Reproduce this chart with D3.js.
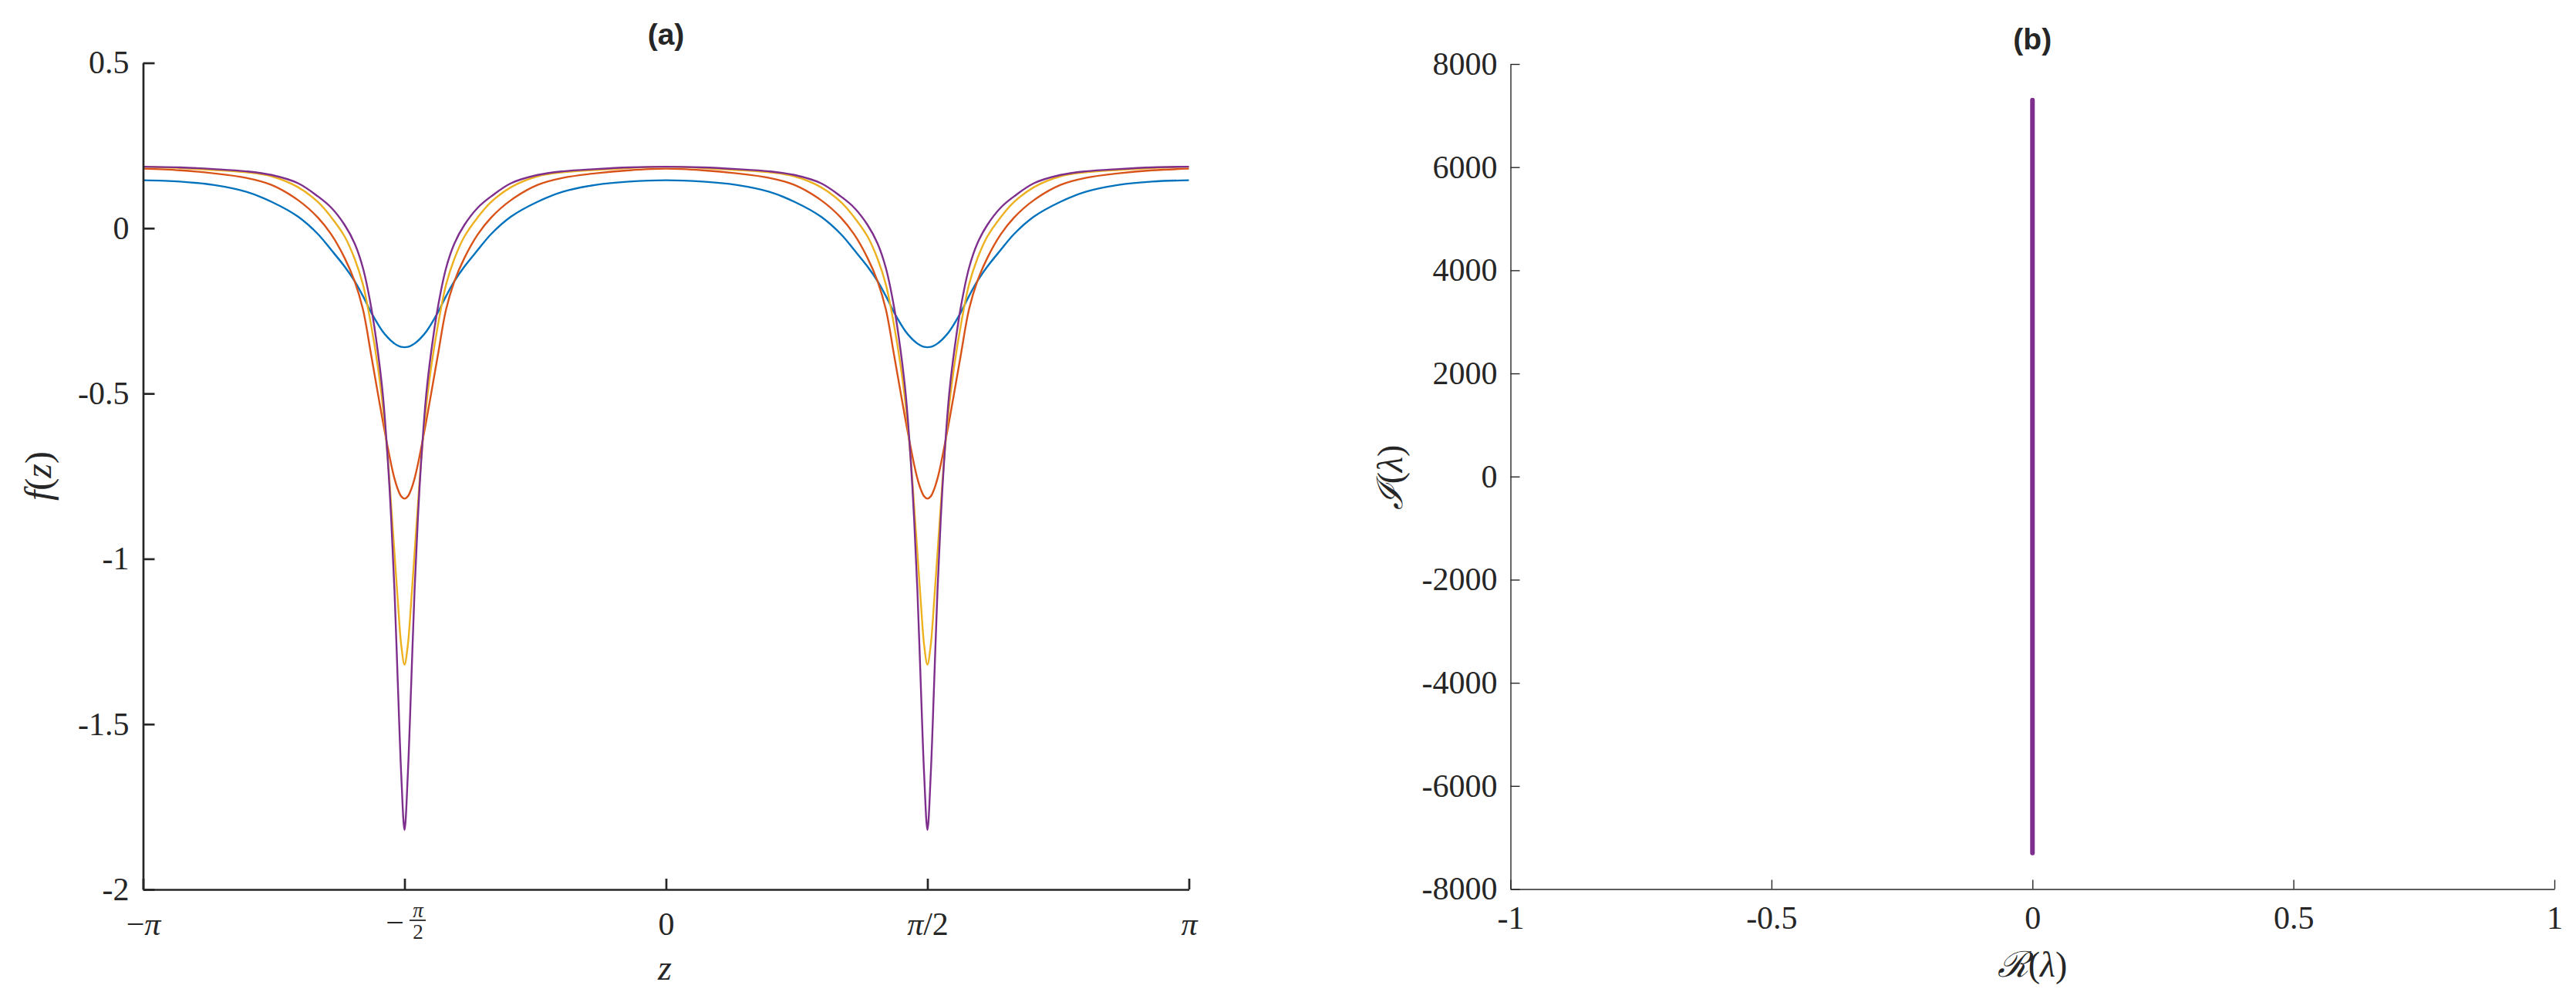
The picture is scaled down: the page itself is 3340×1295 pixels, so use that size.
<!DOCTYPE html>
<html>
<head>
<meta charset="utf-8">
<script src="https://cdn.jsdelivr.net/npm/d3@7"></script>
<style>
  html, body { margin: 0; padding: 0; background: #fff; }
  svg text { fill: #262626; }
</style>
</head>
<body>
<div id="root"></div>
<script>
// ---- data ----
// panel (a): z grid (denser near the two dips)
const zGrid = [
  -3.1416, -2.9208, -2.7208, -2.5208, -2.3708, -2.2108, -2.0908, -2.0108, -1.9308, -1.8708,
  -1.8208, -1.7708, -1.7308, -1.7008, -1.6708, -1.6508, -1.6308, -1.6108, -1.5908, -1.5708,
  -1.5508, -1.5308, -1.5108, -1.4908, -1.4708, -1.4408, -1.4108, -1.3708, -1.3208, -1.2708,
  -1.2108, -1.1308, -1.0508, -0.9308, -0.7708, -0.6208, -0.4208, -0.2208, 0,
  0.2208, 0.4208, 0.6208, 0.7708, 0.9308, 1.0508, 1.1308, 1.2108, 1.2708, 1.3208,
  1.3708, 1.4108, 1.4408, 1.4708, 1.4908, 1.5108, 1.5308, 1.5508, 1.5708,
  1.5908, 1.6108, 1.6308, 1.6508, 1.6708, 1.7008, 1.7308, 1.7708, 1.8208, 1.8708,
  1.9308, 2.0108, 2.0908, 2.2108, 2.3708, 2.5208, 2.7208, 2.9208, 3.1416
];

const fBlue = [
  0.145, 0.141, 0.131, 0.110, 0.080, 0.035, -0.018, -0.066, -0.116, -0.160,
  -0.205, -0.255, -0.290, -0.313, -0.331, -0.341, -0.349, -0.355, -0.359, -0.360,
  -0.359, -0.355, -0.349, -0.341, -0.331, -0.313, -0.290, -0.255, -0.205, -0.160,
  -0.116, -0.066, -0.018, 0.035, 0.080, 0.110, 0.131, 0.141, 0.145,
  0.141, 0.131, 0.110, 0.080, 0.035, -0.018, -0.066, -0.116, -0.160, -0.205,
  -0.255, -0.290, -0.313, -0.331, -0.341, -0.349, -0.355, -0.359, -0.360,
  -0.359, -0.355, -0.349, -0.341, -0.331, -0.313, -0.290, -0.255, -0.205, -0.160,
  -0.116, -0.066, -0.018, 0.035, 0.080, 0.110, 0.131, 0.141, 0.145
];

const fOrange = [
  0.180, 0.175, 0.166, 0.152, 0.131, 0.085, 0.032, -0.019, -0.090, -0.160,
  -0.245, -0.385, -0.500, -0.585, -0.665, -0.715, -0.758, -0.790, -0.811, -0.818,
  -0.811, -0.790, -0.758, -0.715, -0.665, -0.585, -0.500, -0.385, -0.245, -0.160,
  -0.090, -0.019, 0.032, 0.085, 0.131, 0.152, 0.166, 0.175, 0.180,
  0.175, 0.166, 0.152, 0.131, 0.085, 0.032, -0.019, -0.090, -0.160, -0.245,
  -0.385, -0.500, -0.585, -0.665, -0.715, -0.758, -0.790, -0.811, -0.818,
  -0.811, -0.790, -0.758, -0.715, -0.665, -0.585, -0.500, -0.385, -0.245, -0.160,
  -0.090, -0.019, 0.032, 0.085, 0.131, 0.152, 0.166, 0.175, 0.180
];

const fYellow = [
  0.186, 0.182, 0.176, 0.169, 0.157, 0.124, 0.079, 0.033, -0.025, -0.092,
  -0.170, -0.295, -0.420, -0.540, -0.700, -0.840, -0.985, -1.130, -1.260, -1.320,
  -1.260, -1.130, -0.985, -0.840, -0.700, -0.540, -0.420, -0.295, -0.170, -0.092,
  -0.025, 0.033, 0.079, 0.124, 0.157, 0.169, 0.176, 0.182, 0.186,
  0.182, 0.176, 0.169, 0.157, 0.124, 0.079, 0.033, -0.025, -0.092, -0.170,
  -0.295, -0.420, -0.540, -0.700, -0.840, -0.985, -1.130, -1.260, -1.320,
  -1.260, -1.130, -0.985, -0.840, -0.700, -0.540, -0.420, -0.295, -0.170, -0.092,
  -0.025, 0.033, 0.079, 0.124, 0.157, 0.169, 0.176, 0.182, 0.186
];

const fPurple = [
  0.186, 0.184, 0.179, 0.172, 0.161, 0.136, 0.096, 0.062, 0.010, -0.046,
  -0.120, -0.240, -0.375, -0.505, -0.705, -0.880, -1.100, -1.380, -1.650, -1.820,
  -1.650, -1.380, -1.100, -0.880, -0.705, -0.505, -0.375, -0.240, -0.120, -0.046,
  0.010, 0.062, 0.096, 0.136, 0.161, 0.172, 0.179, 0.184, 0.186,
  0.184, 0.179, 0.172, 0.161, 0.136, 0.096, 0.062, 0.010, -0.046, -0.120,
  -0.240, -0.375, -0.505, -0.705, -0.880, -1.100, -1.380, -1.650, -1.820,
  -1.650, -1.380, -1.100, -0.880, -0.705, -0.505, -0.375, -0.240, -0.120, -0.046,
  0.010, 0.062, 0.096, 0.136, 0.161, 0.172, 0.179, 0.184, 0.186
];

const seriesColors = ['#0072BD', '#D95319', '#EDB120', '#7E2F8E'];

const aXTicks = [-Math.PI, -Math.PI / 2, 0, Math.PI / 2, Math.PI];
const aXTickLabels = ['−π', '−π/2', '0', 'π/2', 'π'];
const aYTicks = [0.5, 0, -0.5, -1, -1.5, -2];
const aYTickLabels = ['0.5', '0', '-0.5', '-1', '-1.5', '-2'];

// panel (b): spectrum, all on the imaginary axis
const bRe = [0, 0];
const bIm = [-7300, 7300];
const bXTicks = [-1, -0.5, 0, 0.5, 1];
const bXTickLabels = ['-1', '-0.5', '0', '0.5', '1'];
const bYTicks = [8000, 6000, 4000, 2000, 0, -2000, -4000, -6000, -8000];
const bYTickLabels = ['8000', '6000', '4000', '2000', '0', '-2000', '-4000', '-6000', '-8000'];

// ---- drawing ----
const W = 3340, H = 1295;
const ink = '#262626';
const serif = "'Liberation Serif', 'DejaVu Serif', serif";

const svg = d3.select('#root').append('svg')
  .attr('width', W).attr('height', H)
  .style('display', 'block');

// panel a scales
const xA = d3.scaleLinear().domain([-Math.PI, Math.PI]).range([185.5, 1541.5]);
const yA = d3.scaleLinear().domain([-2, 0.5]).range([1153, 81.5]);

// curves
const lineA = d3.line()
  .x(d => xA(d[0]))
  .y(d => yA(d[1]))
  .curve(d3.curveCatmullRom.alpha(0.5));

[fBlue, fOrange, fYellow, fPurple].forEach((vals, i) => {
  svg.append('path')
    .datum(zGrid.map((z, j) => [z, vals[j]]))
    .attr('fill', 'none')
    .attr('stroke', seriesColors[i])
    .attr('stroke-width', 2.4)
    .attr('stroke-linejoin', 'round')
    .attr('d', lineA);
});

// axes a
const yAxisA = d3.axisLeft(yA)
  .tickValues(aYTicks)
  .tickFormat((d, i) => aYTickLabels[i])
  .tickSizeInner(-15).tickSizeOuter(0).tickPadding(18);
const gyA = svg.append('g')
  .attr('transform', `translate(${xA.range()[0]},0)`)
  .call(yAxisA);

const xAxisA = d3.axisBottom(xA)
  .tickValues(aXTicks)
  .tickFormat((d, i) => aXTickLabels[i])
  .tickSizeInner(-14).tickSizeOuter(0).tickPadding(29);
const gxA = svg.append('g')
  .attr('transform', `translate(0,${yA.range()[0]})`)
  .call(xAxisA);

[gyA, gxA].forEach(g => {
  g.select('.domain').attr('stroke', ink).attr('stroke-width', 2.7);
  g.selectAll('.tick line').attr('stroke', ink).attr('stroke-width', 2.7);
  g.selectAll('.tick text')
    .attr('fill', ink)
    .style('font-family', serif)
    .style('font-size', '42px');
});

// pi labels in italic
gxA.selectAll('.tick text').each(function (d, i) {
  const t = d3.select(this);
  const lab = aXTickLabels[i];
  if (lab.indexOf('π') < 0) return;
  t.text(null);
  for (const ch of lab) {
    t.append('tspan')
      .style('font-style', ch === 'π' ? 'italic' : 'normal')
      .text(ch);
  }
});

// -pi/2 drawn as a stacked fraction
gxA.selectAll('.tick').filter((d) => Math.abs(d + Math.PI / 2) < 1e-9).each(function () {
  const g = d3.select(this);
  g.select('text').remove();
  g.append('text').attr('x', -1).attr('y', 44).attr('dy', '0.32em')
    .attr('text-anchor', 'end')
    .style('font-family', serif).style('font-size', '42px')
    .text('−');
  g.append('text').attr('x', 17).attr('y', 36)
    .attr('text-anchor', 'middle')
    .style('font-family', serif).style('font-size', '27px').style('font-style', 'italic')
    .text('π');
  g.append('line').attr('x1', 6).attr('x2', 27).attr('y1', 40).attr('y2', 40)
    .attr('stroke', ink).attr('stroke-width', 1.8);
  g.append('text').attr('x', 17).attr('y', 64)
    .attr('text-anchor', 'middle')
    .style('font-family', serif).style('font-size', '27px')
    .text('2');
});

// labels a
svg.append('text')
  .attr('x', (xA.range()[0] + xA.range()[1]) / 2).attr('y', 58)
  .attr('text-anchor', 'middle')
  .style('font-family', "'Liberation Sans', Arial, sans-serif")
  .style('font-weight', 'bold').style('font-size', '39px')
  .attr('fill', '#000')
  .text('(a)');

svg.append('text')
  .attr('x', 862).attr('y', 1270)
  .attr('text-anchor', 'middle')
  .style('font-family', serif).style('font-size', '46px').style('font-style', 'italic')
  .text('z');

const fl = svg.append('text')
  .attr('transform', 'translate(66,617) rotate(-90)')
  .attr('text-anchor', 'middle')
  .style('font-family', serif).style('font-size', '48px');
fl.append('tspan').style('font-style', 'italic').text('f');
fl.append('tspan').text('(');
fl.append('tspan').style('font-style', 'italic').text('z');
fl.append('tspan').text(')');

// panel b scales
const xB = d3.scaleLinear().domain([-1, 1]).range([1958.5, 3312]);
const yB = d3.scaleLinear().domain([-8000, 8000]).range([1152.5, 83]);

const lineB = d3.line().x(d => xB(d[0])).y(d => yB(d[1]));
svg.append('path')
  .datum(bRe.map((r, j) => [r, bIm[j]]))
  .attr('fill', 'none')
  .attr('stroke', '#7E2F8E')
  .attr('stroke-width', 6)
  .attr('stroke-linecap', 'round')
  .attr('d', lineB);

const yAxisB = d3.axisLeft(yB)
  .tickValues(bYTicks)
  .tickFormat((d, i) => bYTickLabels[i])
  .tickSizeInner(-12).tickSizeOuter(0).tickPadding(17);
const gyB = svg.append('g')
  .attr('transform', `translate(${xB.range()[0]},0)`)
  .call(yAxisB);

const xAxisB = d3.axisBottom(xB)
  .tickValues(bXTicks)
  .tickFormat((d, i) => bXTickLabels[i])
  .tickSizeInner(-12).tickSizeOuter(0).tickPadding(22);
const gxB = svg.append('g')
  .attr('transform', `translate(0,${yB.range()[0]})`)
  .call(xAxisB);

[gyB, gxB].forEach(g => {
  g.select('.domain').attr('stroke', ink).attr('stroke-width', 1.4);
  g.selectAll('.tick line').attr('stroke', ink).attr('stroke-width', 1.4);
  g.selectAll('.tick text')
    .attr('fill', '#333')
    .style('font-family', serif)
    .style('font-size', '42px');
});

svg.append('text')
  .attr('x', (xB.range()[0] + xB.range()[1]) / 2).attr('y', 64)
  .attr('text-anchor', 'middle')
  .style('font-family', "'Liberation Sans', Arial, sans-serif")
  .style('font-weight', 'bold').style('font-size', '39px')
  .attr('fill', '#000')
  .text('(b)');

const rl = svg.append('text')
  .attr('x', 2635).attr('y', 1266)
  .attr('text-anchor', 'middle')
  .style('font-family', serif).style('font-size', '46px');
rl.append('tspan').style('font-family', "'DejaVu Serif', serif").style('font-style', 'italic').text('ℛ');
rl.append('tspan').text('(');
rl.append('tspan').style('font-style', 'italic').text('λ');
rl.append('tspan').text(')');

const il = svg.append('text')
  .attr('transform', 'translate(1818,619) rotate(-90)')
  .attr('text-anchor', 'middle')
  .style('font-family', serif).style('font-size', '46px');
il.append('tspan').style('font-family', "'DejaVu Serif', serif").style('font-style', 'italic').text('ℐ');
il.append('tspan').text('(');
il.append('tspan').style('font-style', 'italic').text('λ');
il.append('tspan').text(')');
</script>
</body>
</html>
